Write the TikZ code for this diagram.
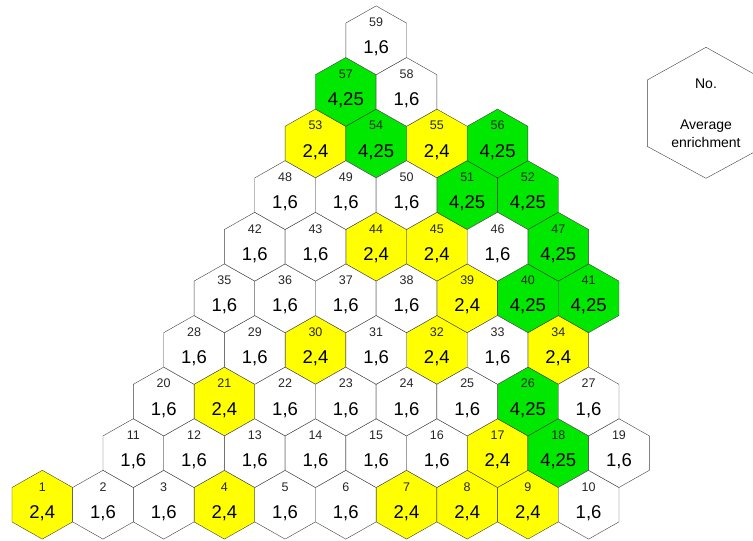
\documentclass[tikz,border=0pt]{standalone}
\usepackage{fontspec}
\setmainfont{Liberation Sans}
\definecolor{FuelYellow}{HTML}{FFFF00}
\definecolor{FuelGreen}{HTML}{00E800}
\definecolor{HexEdge}{HTML}{404040}
\newcommand{\hexcell}[4]{%
  % #1 number, #2 column, #3 row, #4 fill
  \draw[HexEdge, fill=#4] ({42.3+30.35*#2},{36.3+51.6*#3}) ++(0,34.4) -- ++(30.35,-17.2) -- ++(0,-34.4)
    -- ++(-30.35,-17.2) -- ++(-30.35,17.2) -- ++(0,34.4) -- cycle;
  \node[anchor=base, font=\fontsize{12.5}{13}\selectfont, text=black!85] (no#1) at ({42.3+30.35*#2},{36.3+51.6*#3+13.5}) {#1};
}
\begin{document}
\begin{tikzpicture}[x=1pt, y=1pt]
  \useasboundingbox (0,0) rectangle (753,541);
  \foreach \n/\c/\r in {1/0/0, 4/6/0, 7/12/0, 8/14/0, 9/16/0, 17/15/1, 21/6/2, 30/9/3, 32/13/3, 34/17/3,
                        39/14/4, 44/11/5, 45/13/5, 53/9/7, 55/13/7} {
    \hexcell{\n}{\c}{\r}{FuelYellow}
    \node[anchor=base, font=\fontsize{18.5}{20}\selectfont] (val\n) at ({42.3+30.35*\c},{36.3+51.6*\r-13.6}) {2,4};
  }
  \foreach \n/\c/\r in {18/17/1, 26/16/2, 40/16/4, 41/18/4, 47/17/5, 51/14/6, 52/16/6, 54/11/7, 56/15/7, 57/10/8} {
    \hexcell{\n}{\c}{\r}{FuelGreen}
    \node[anchor=base, font=\fontsize{18.5}{20}\selectfont] (val\n) at ({42.3+30.35*\c},{36.3+51.6*\r-13.6}) {4,25};
  }
  \foreach \n/\c/\r in {2/2/0, 3/4/0, 5/8/0, 6/10/0, 10/18/0,
                        11/3/1, 12/5/1, 13/7/1, 14/9/1, 15/11/1, 16/13/1, 19/19/1,
                        20/4/2, 22/8/2, 23/10/2, 24/12/2, 25/14/2, 27/18/2,
                        28/5/3, 29/7/3, 31/11/3, 33/15/3,
                        35/6/4, 36/8/4, 37/10/4, 38/12/4,
                        42/7/5, 43/9/5, 46/15/5,
                        48/8/6, 49/10/6, 50/12/6,
                        58/12/8, 59/11/9} {
    \hexcell{\n}{\c}{\r}{white}
    \node[anchor=base, font=\fontsize{18.5}{20}\selectfont] (val\n) at ({42.3+30.35*\c},{36.3+51.6*\r-13.6}) {1,6};
  }
  % legend
  \draw[HexEdge] (706,493.7) -- (764.7,461) -- (764.7,394.6) -- (706,362.7) -- (647.3,394.6) -- (647.3,461) -- cycle;
  \node[anchor=base, font=\fontsize{14}{18}\selectfont] (legno) at (706,452.7) {No.};
  \node[anchor=base, font=\fontsize{14}{18}\selectfont] (legavg) at (706,411.7) {Average};
  \node[anchor=base, font=\fontsize{14}{18}\selectfont] (legenr) at (706,393.7) {enrichment};
\end{tikzpicture}
\end{document}
